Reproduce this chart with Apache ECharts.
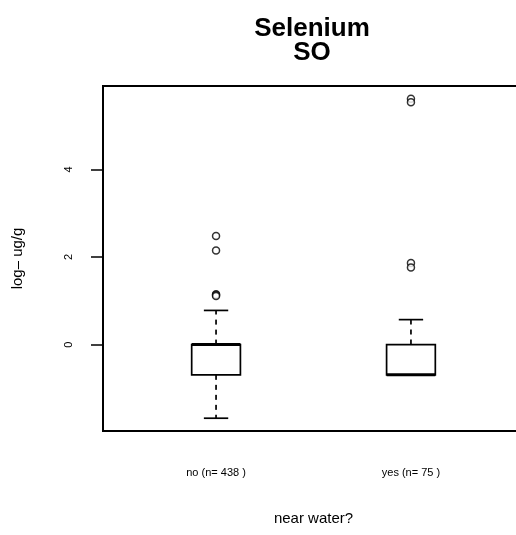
<!DOCTYPE html>
<html>
<head>
<meta charset="utf-8">
<script src="https://cdn.jsdelivr.net/npm/echarts@6/dist/echarts.min.js"></script>
<style>
html,body{margin:0;padding:0;background:#fff;}
#c{width:516px;height:535px;}
</style>
</head>
<body>
<div id="c"></div>
<script>
// ---- data ----
const categories = ['no (n= 438 )', 'yes (n= 75 )'];
// [lowerWhisker, Q1, median, Q3, upperWhisker]
const statsNo  = [-1.68, -0.69, 0.0, 0.0, 0.78];
const statsYes = [-0.69, -0.69, -0.69, 0.0, 0.57];
const outliersNo  = [2.48, 2.15, 1.15, 1.13, 1.11];
const outliersYes = [5.61, 5.53, 1.86, 1.76];
const yTickValues = [0, 2, 4];
const titleText = 'Selenium\nSO';
const xTitle = 'near water?';
const yTitle = 'log\u2013 ug/g';

// ---- build ----
const allStats = [statsNo, statsYes];
const allOut = [outliersNo, outliersYes];
const boxData = allStats.map((s, i) => [i + 1].concat(s));
const outData = [];
allOut.forEach((arr, i) => arr.forEach(v => outData.push([i + 1, v])));

let lo = Infinity, hi = -Infinity;
allStats.forEach(s => s.forEach(v => { lo = Math.min(lo, v); hi = Math.max(hi, v); }));
allOut.forEach(a => a.forEach(v => { lo = Math.min(lo, v); hi = Math.max(hi, v); }));
const ext = (hi - lo) * 0.04;
const yMin = lo - ext, yMax = hi + ext;
const xMin = 0.5 - 0.08, xMax = 2.5 + 0.08;

const BOX_HALF = 0.125, CAP_HALF = 0.0625;

function renderBox(params, api) {
  const x = api.value(0);
  const wLo = api.value(1), q1 = api.value(2), med = api.value(3), q3 = api.value(4), wHi = api.value(5);
  const tl = api.coord([x - BOX_HALF, q3]);
  const br = api.coord([x + BOX_HALF, q1]);
  const mL = api.coord([x - BOX_HALF, med]);
  const mR = api.coord([x + BOX_HALF, med]);
  const c = api.coord([x, 0])[0];
  const yLo = api.coord([x, wLo])[1];
  const yHi = api.coord([x, wHi])[1];
  const capL = api.coord([x - CAP_HALF, 0])[0];
  const capR = api.coord([x + CAP_HALF, 0])[0];
  const solid = { stroke: '#000', lineWidth: 1.7, fill: null };
  const dashed = { stroke: '#000', lineWidth: 1.7, lineDash: [5, 5], fill: null };
  return {
    type: 'group',
    children: [
      { type: 'line', shape: { x1: c, y1: tl[1], x2: c, y2: yHi }, style: dashed },
      { type: 'line', shape: { x1: c, y1: br[1], x2: c, y2: yLo }, style: dashed },
      { type: 'line', shape: { x1: capL, y1: yHi, x2: capR, y2: yHi }, style: solid },
      { type: 'line', shape: { x1: capL, y1: yLo, x2: capR, y2: yLo }, style: solid },
      { type: 'rect', shape: { x: tl[0], y: tl[1], width: br[0] - tl[0], height: br[1] - tl[1] },
        style: { stroke: '#000', lineWidth: 1.7, fill: '#fff' } },
      { type: 'line', shape: { x1: mL[0], y1: mL[1], x2: mR[0], y2: mR[1] },
        style: { stroke: '#000', lineWidth: 3 } }
    ]
  };
}

const chart = echarts.init(document.getElementById('c'), null, { renderer: 'canvas' });
chart.setOption({
  animation: false,
  backgroundColor: '#fff',
  textStyle: { fontFamily: 'Liberation Sans, Arial, sans-serif' },
  title: {
    text: titleText,
    left: 312,
    top: 17,
    padding: 0,
    textAlign: 'center',
    textStyle: { fontSize: 26, fontWeight: 'bold', color: '#000', lineHeight: 24, fontFamily: 'Liberation Sans' }
  },
  grid: {
    left: 103, top: 86, width: 421, height: 345,
    outerBoundsMode: 'none',
    containLabel: false,
    show: true, borderColor: '#000', borderWidth: 2, backgroundColor: 'transparent'
  },
  xAxis: {
    type: 'value', min: xMin, max: xMax,
    name: xTitle, nameLocation: 'middle', nameGap: 80,
    nameTextStyle: { fontSize: 15, color: '#000' },
    axisLine: { show: false },
    splitLine: { show: false },
    axisTick: { show: true, customValues: [1, 2], length: 12, lineStyle: { color: '#000', width: 1.5 } },
    axisLabel: { customValues: [1, 2], formatter: v => categories[Math.round(v) - 1], fontSize: 11, color: '#000', margin: 36 }
  },
  yAxis: {
    type: 'value', min: yMin, max: yMax,
    name: yTitle, nameLocation: 'middle', nameGap: 78, nameRotate: 90,
    nameTextStyle: { fontSize: 15, color: '#000' },
    axisLine: { show: false },
    splitLine: { show: false },
    axisTick: { show: true, customValues: yTickValues, length: 12, lineStyle: { color: '#000', width: 1.5 } },
    axisLabel: { customValues: yTickValues, rotate: 90, fontSize: 11, color: '#000', margin: 29 }
  },
  series: [
    {
      type: 'custom',
      renderItem: renderBox,
      data: boxData,
      encode: { x: 0, y: [1, 2, 3, 4, 5] },
      clip: false,
      z: 2
    },
    {
      type: 'scatter',
      data: outData,
      symbol: 'circle',
      symbolSize: 7,
      itemStyle: { color: '#fff', borderColor: '#000', borderWidth: 1.5 },
      z: 3
    }
  ]
});
</script>
</body>
</html>
